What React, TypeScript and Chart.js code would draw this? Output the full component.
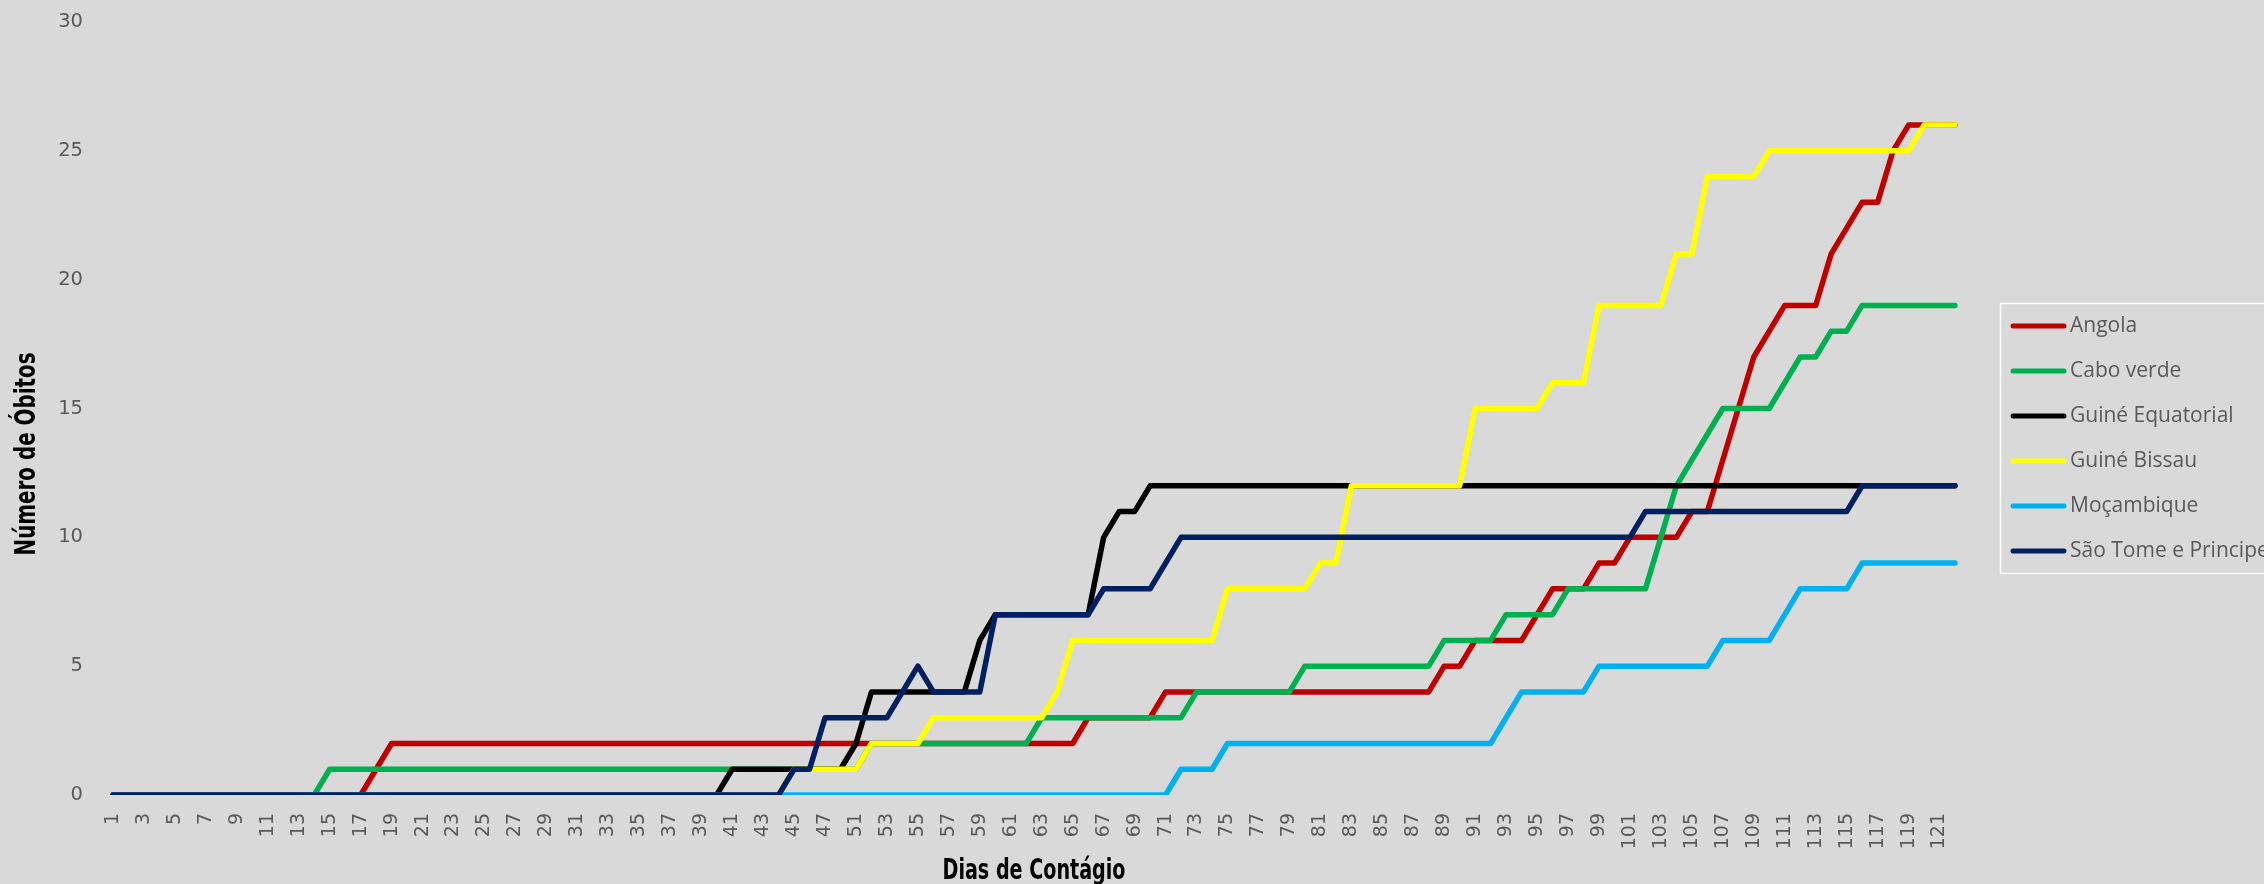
import React, { useEffect, useRef } from "react";
import { Chart, registerables } from "chart.js";

Chart.register(...registerables);

// Category labels (days of contagion) as shown on the axis
const dayLabels = [
  "1", "2", "3", "4", "5", "6", "7", "8", "9", "10",
  "11", "12", "13", "14", "15", "16", "17", "18", "19", "20",
  "21", "22", "23", "24", "25", "26", "27", "28", "29", "30",
  "31", "32", "33", "34", "35", "36", "37", "38", "39", "40",
  "41", "42", "43", "44", "45", "46", "47", "48", "51", "52",
  "53", "54", "55", "56", "57", "58", "59", "60", "61", "62",
  "63", "64", "65", "66", "67", "68", "69", "70", "71", "72",
  "73", "74", "75", "76", "77", "78", "79", "80", "81", "82",
  "83", "84", "85", "86", "87", "88", "89", "90", "91", "92",
  "93", "94", "95", "96", "97", "98", "99", "100", "101", "102",
  "103", "104", "105", "106", "107", "108", "109", "110", "111", "112",
  "113", "114", "115", "116", "117", "118", "119", "120", "121", "122",
];

const seriesNames = [
  "Angola",
  "Cabo verde",
  "Guiné Equatorial",
  "Guiné Bissau",
  "Moçambique",
  "São Tome e Principe",
];

const angola = [
  0, 0, 0, 0, 0, 0, 0, 0, 0, 0,
  0, 0, 0, 0, 0, 0, 0, 1, 2, 2,
  2, 2, 2, 2, 2, 2, 2, 2, 2, 2,
  2, 2, 2, 2, 2, 2, 2, 2, 2, 2,
  2, 2, 2, 2, 2, 2, 2, 2, 2, 2,
  2, 2, 2, 2, 2, 2, 2, 2, 2, 2,
  2, 2, 2, 3, 3, 3, 3, 3, 4, 4,
  4, 4, 4, 4, 4, 4, 4, 4, 4, 4,
  4, 4, 4, 4, 4, 4, 5, 5, 6, 6,
  6, 6, 7, 8, 8, 8, 9, 9, 10, 10,
  10, 10, 11, 11, 13, 15, 17, 18, 19, 19,
  19, 21, 22, 23, 23, 25, 26, 26, 26, 26,
];

const caboVerde = [
  0, 0, 0, 0, 0, 0, 0, 0, 0, 0,
  0, 0, 0, 0, 1, 1, 1, 1, 1, 1,
  1, 1, 1, 1, 1, 1, 1, 1, 1, 1,
  1, 1, 1, 1, 1, 1, 1, 1, 1, 1,
  1, 1, 1, 1, 1, 1, 1, 1, 1, 2,
  2, 2, 2, 2, 2, 2, 2, 2, 2, 2,
  3, 3, 3, 3, 3, 3, 3, 3, 3, 3,
  4, 4, 4, 4, 4, 4, 4, 5, 5, 5,
  5, 5, 5, 5, 5, 5, 6, 6, 6, 6,
  7, 7, 7, 7, 8, 8, 8, 8, 8, 8,
  10, 12, 13, 14, 15, 15, 15, 15, 16, 17,
  17, 18, 18, 19, 19, 19, 19, 19, 19, 19,
];

const guineEquatorial = [
  0, 0, 0, 0, 0, 0, 0, 0, 0, 0,
  0, 0, 0, 0, 0, 0, 0, 0, 0, 0,
  0, 0, 0, 0, 0, 0, 0, 0, 0, 0,
  0, 0, 0, 0, 0, 0, 0, 0, 0, 0,
  1, 1, 1, 1, 1, 1, 1, 1, 2, 4,
  4, 4, 4, 4, 4, 4, 6, 7, 7, 7,
  7, 7, 7, 7, 10, 11, 11, 12, 12, 12,
  12, 12, 12, 12, 12, 12, 12, 12, 12, 12,
  12, 12, 12, 12, 12, 12, 12, 12, 12, 12,
  12, 12, 12, 12, 12, 12, 12, 12, 12, 12,
  12, 12, 12, 12, 12, 12, 12, 12, 12, 12,
  12, 12, 12, 12, 12, 12, 12, 12, 12, 12,
];

const guineBissau = [
  0, 0, 0, 0, 0, 0, 0, 0, 0, 0,
  0, 0, 0, 0, 0, 0, 0, 0, 0, 0,
  0, 0, 0, 0, 0, 0, 0, 0, 0, 0,
  0, 0, 0, 0, 0, 0, 0, 0, 0, 0,
  0, 0, 0, 0, 1, 1, 1, 1, 1, 2,
  2, 2, 2, 3, 3, 3, 3, 3, 3, 3,
  3, 4, 6, 6, 6, 6, 6, 6, 6, 6,
  6, 6, 8, 8, 8, 8, 8, 8, 9, 9,
  12, 12, 12, 12, 12, 12, 12, 12, 15, 15,
  15, 15, 15, 16, 16, 16, 19, 19, 19, 19,
  19, 21, 21, 24, 24, 24, 24, 25, 25, 25,
  25, 25, 25, 25, 25, 25, 25, 26, 26, 26,
];

const mocambique = [
  0, 0, 0, 0, 0, 0, 0, 0, 0, 0,
  0, 0, 0, 0, 0, 0, 0, 0, 0, 0,
  0, 0, 0, 0, 0, 0, 0, 0, 0, 0,
  0, 0, 0, 0, 0, 0, 0, 0, 0, 0,
  0, 0, 0, 0, 0, 0, 0, 0, 0, 0,
  0, 0, 0, 0, 0, 0, 0, 0, 0, 0,
  0, 0, 0, 0, 0, 0, 0, 0, 0, 1,
  1, 1, 2, 2, 2, 2, 2, 2, 2, 2,
  2, 2, 2, 2, 2, 2, 2, 2, 2, 2,
  3, 4, 4, 4, 4, 4, 5, 5, 5, 5,
  5, 5, 5, 5, 6, 6, 6, 6, 7, 8,
  8, 8, 8, 9, 9, 9, 9, 9, 9, 9,
];

const saoTome = [
  0, 0, 0, 0, 0, 0, 0, 0, 0, 0,
  0, 0, 0, 0, 0, 0, 0, 0, 0, 0,
  0, 0, 0, 0, 0, 0, 0, 0, 0, 0,
  0, 0, 0, 0, 0, 0, 0, 0, 0, 0,
  0, 0, 0, 0, 1, 1, 3, 3, 3, 3,
  3, 4, 5, 4, 4, 4, 4, 7, 7, 7,
  7, 7, 7, 7, 8, 8, 8, 8, 9, 10,
  10, 10, 10, 10, 10, 10, 10, 10, 10, 10,
  10, 10, 10, 10, 10, 10, 10, 10, 10, 10,
  10, 10, 10, 10, 10, 10, 10, 10, 10, 11,
  11, 11, 11, 11, 11, 11, 11, 11, 11, 11,
  11, 11, 11, 12, 12, 12, 12, 12, 12, 12,
];

const yTickValues = [0, 5, 10, 15, 20, 25, 30];
const xAxisTitle = "Dias de Contágio";
const yAxisTitle = "Número de Óbitos";

const seriesColors = ["#C00000", "#00B050", "#000000", "#FFFF00", "#00B0F0", "#002060"];

const W = 2264;
const H = 884;
const BG = "#d9d9d9";
const TICK_COLOR = "#595959";
const TICK_FONT = "DejaVu Sans, sans-serif";
const TITLE_FONT = "bold 29px 'Liberation Sans Narrow', 'DejaVu Sans Condensed', 'Liberation Sans', sans-serif";
const LEGEND_FONT = "21px 'Open Sans', 'Noto Sans', sans-serif";

// draw text squeezed to a given width (Excel's narrow title face)
function drawFittedText(ctx: CanvasRenderingContext2D, text: string, targetWidth: number) {
  const w = ctx.measureText(text).width;
  const s = w > 0 ? targetWidth / w : 1;
  ctx.save();
  ctx.scale(s, 1);
  ctx.fillText(text, 0, 0);
  ctx.restore();
}

export default function App() {
  const canvasRef = useRef<HTMLCanvasElement | null>(null);

  useEffect(() => {
    const canvas = canvasRef.current;
    if (!canvas) return;
    const seriesValues = [angola, caboVerde, guineEquatorial, guineBissau, mocambique, saoTome];

    const decorPlugin = {
      id: "excelDecor",
      afterDraw(chart: any) {
        const ctx = chart.ctx as CanvasRenderingContext2D;
        const area = chart.chartArea;
        // axis titles
        ctx.save();
        ctx.fillStyle = "#000000";
        ctx.font = TITLE_FONT;
        ctx.textAlign = "center";
        ctx.textBaseline = "middle";
        ctx.save();
        ctx.translate((area.left + area.right) / 2, area.bottom + 76);
        drawFittedText(ctx, xAxisTitle, 183);
        ctx.restore();
        ctx.save();
        ctx.translate(area.left - 86, area.bottom - 341);
        ctx.rotate(-Math.PI / 2);
        drawFittedText(ctx, yAxisTitle, 203);
        ctx.restore();
        ctx.restore();

        // legend box
        const lx = area.right + 45;
        const ly = 303;
        ctx.save();
        ctx.strokeStyle = "#ffffff";
        ctx.lineWidth = 1.5;
        ctx.strokeRect(lx + 0.5, ly + 0.5, 320, 270);
        ctx.font = LEGEND_FONT;
        ctx.textAlign = "left";
        ctx.textBaseline = "middle";
        seriesNames.forEach((name, i) => {
          const y = ly + 23 + i * 45;
          ctx.strokeStyle = seriesColors[i];
          ctx.lineWidth = 5;
          ctx.lineCap = "round";
          ctx.beginPath();
          ctx.moveTo(lx + 13, y);
          ctx.lineTo(lx + 64, y);
          ctx.stroke();
          ctx.fillStyle = TICK_COLOR;
          ctx.fillText(name, lx + 70, y);
        });
        ctx.restore();
      },
    };

    const chart = new Chart(canvas, {
      type: "line",
      data: {
        labels: dayLabels,
        datasets: seriesNames.map((name, i) => ({
          label: name,
          data: seriesValues[i],
          borderColor: seriesColors[i],
          backgroundColor: seriesColors[i],
          borderWidth: 5.5,
          borderCapStyle: "round" as const,
          borderJoinStyle: "round" as const,
          pointRadius: 0,
          pointHoverRadius: 0,
          tension: 0,
          fill: false,
          order: seriesNames.length - i,
        })),
      },
      options: {
        animation: false,
        responsive: false,
        devicePixelRatio: 1,
        layout: { padding: { left: 0, right: 309, top: 22, bottom: 0 } },
        plugins: {
          legend: { display: false },
          tooltip: { enabled: false },
          title: { display: false },
        },
        scales: {
          x: {
            type: "category",
            offset: false,
            grid: { display: false, drawTicks: true, tickLength: 8 },
            border: { display: false },
            afterFit: (scale: any) => {
              scale.height = 89;
            },
            ticks: {
              autoSkip: false,
              minRotation: 90,
              maxRotation: 90,
              padding: 10,
              color: TICK_COLOR,
              font: { family: TICK_FONT, size: 19 },
              callback: (_v: any, index: number) => (index % 2 === 0 ? dayLabels[index] : ""),
            },
          },
          y: {
            min: yTickValues[0],
            max: yTickValues[yTickValues.length - 1],
            grid: { display: false, drawTicks: true, tickLength: 22 },
            border: { display: false },
            afterFit: (scale: any) => {
              scale.width = 113;
            },
            afterBuildTicks: (scale: any) => {
              scale.ticks = yTickValues.map((v) => ({ value: v }));
            },
            ticks: {
              padding: 8,
              color: TICK_COLOR,
              font: { family: TICK_FONT, size: 19.5 },
            },
          },
        },
      },
      plugins: [decorPlugin],
    });

    return () => {
      chart.destroy();
    };
  }, []);

  return (
    <div style={{ position: "fixed", left: 0, top: 0, width: W, height: H, background: BG }}>
      <canvas ref={canvasRef} width={W} height={H} style={{ display: "block", width: W, height: H }} />
    </div>
  );
}
